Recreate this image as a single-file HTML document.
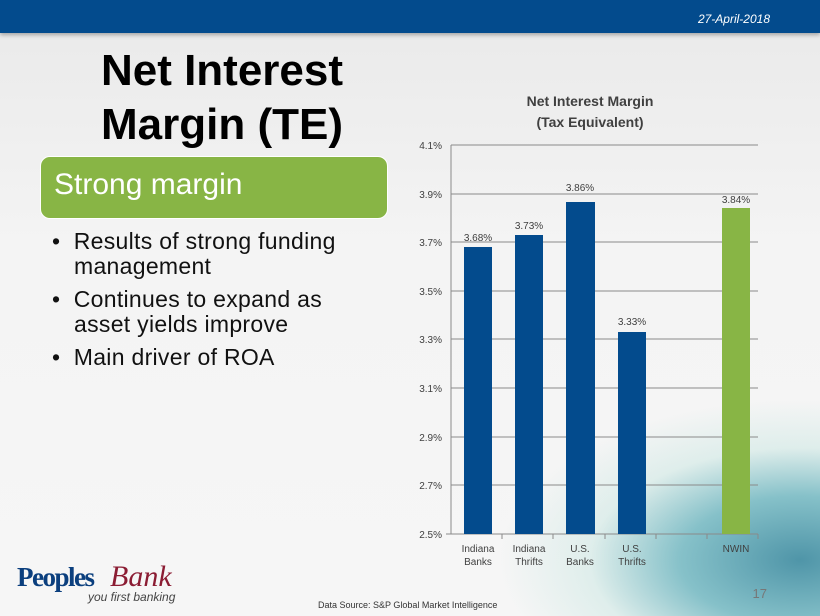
<!DOCTYPE html>
<html><head><meta charset="utf-8"><style>
*{margin:0;padding:0}
body{width:820px;height:616px;overflow:hidden;position:relative;font-family:"Liberation Sans",Arial,sans-serif;background:linear-gradient(180deg,#e9e9e9 0%,#f4f4f4 40%,#f6f6f6 100%)}
.abs{position:absolute}
</style></head><body>
<div class="abs" style="left:0;top:0;width:820px;height:616px;background:radial-gradient(ellipse 300px 160px at 800px 560px,#4f95a8 0%,#86c1c9 40%,rgba(200,230,225,0.5) 70%,rgba(246,246,246,0) 100%)"></div>
<div class="abs" style="left:0;top:0;width:820px;height:33px;background:#034b8d;box-shadow:0 2px 4px rgba(0,0,0,0.3)"></div>
<div class="abs" style="right:50px;top:12px;color:#fff;font-size:12px;font-style:italic">27-April-2018</div>
<div class="abs" style="left:62px;top:44px;width:320px;text-align:center;font-size:44px;font-weight:bold;line-height:54px;color:#000">Net Interest<br>Margin (TE)</div>
<div class="abs" style="left:40px;top:156px;width:348px;height:63px;background:#88b545;border-radius:10px;border:1px solid #fff;box-sizing:border-box"></div>
<div class="abs" style="left:54px;top:168px;font-size:30px;color:#fff">Strong margin</div>
<div class="abs" style="left:52px;top:229px;font-size:23px;letter-spacing:0.3px;line-height:25px;color:#111;width:305px">
<div style="padding-left:22px;text-indent:-22px">•&nbsp;&nbsp;Results of strong funding management</div>
<div style="padding-left:22px;text-indent:-22px;margin-top:8px">•&nbsp;&nbsp;Continues to expand as asset yields improve</div>
<div style="padding-left:22px;text-indent:-22px;margin-top:8px">•&nbsp;&nbsp;Main driver of ROA</div>
</div>
<svg class="abs" style="left:0;top:0" width="820" height="616" font-family="Liberation Sans,Arial,sans-serif">
<text x="590" y="106" text-anchor="middle" font-size="14" font-weight="bold" fill="#404040">Net Interest Margin</text>
<text x="590" y="127" text-anchor="middle" font-size="14" font-weight="bold" fill="#404040">(Tax Equivalent)</text>
<g stroke="#8a8a8a" stroke-width="1">
<line x1="451" x2="758" y1="145" y2="145"/><line x1="451" x2="758" y1="194" y2="194"/><line x1="451" x2="758" y1="242" y2="242"/><line x1="451" x2="758" y1="291" y2="291"/><line x1="451" x2="758" y1="339" y2="339"/><line x1="451" x2="758" y1="388" y2="388"/><line x1="451" x2="758" y1="437" y2="437"/><line x1="451" x2="758" y1="485" y2="485"/><line x1="446" x2="758" y1="534" y2="534"/>
<line x1="451" x2="451" y1="145" y2="534"/>
</g>
<g font-size="10" fill="#404040" text-anchor="end">
<text x="442" y="149">4.1%</text><text x="442" y="198">3.9%</text><text x="442" y="246">3.7%</text><text x="442" y="295">3.5%</text><text x="442" y="343">3.3%</text><text x="442" y="392">3.1%</text><text x="442" y="441">2.9%</text><text x="442" y="489">2.7%</text><text x="442" y="538">2.5%</text>
</g>
<g fill="#034b8d">
<rect x="464" y="247" width="28" height="287"/><rect x="515" y="235" width="28" height="299"/><rect x="566" y="202" width="29" height="332"/><rect x="618" y="332" width="28" height="202"/>
</g>
<rect x="722" y="208" width="28" height="326" fill="#88b545"/>
<g stroke="#8a8a8a"><line x1="502" x2="502" y1="534" y2="539"/><line x1="553" x2="553" y1="534" y2="539"/><line x1="605" x2="605" y1="534" y2="539"/><line x1="656" x2="656" y1="534" y2="539"/><line x1="707" x2="707" y1="534" y2="539"/><line x1="758" x2="758" y1="534" y2="539"/></g>
<g font-size="10" fill="#404040" text-anchor="middle">
<text x="478" y="241">3.68%</text><text x="529" y="229">3.73%</text><text x="580" y="191">3.86%</text><text x="632" y="325">3.33%</text><text x="736" y="203">3.84%</text>
<text x="478" y="552">Indiana</text><text x="478" y="565">Banks</text>
<text x="529" y="552">Indiana</text><text x="529" y="565">Thrifts</text>
<text x="580" y="552">U.S.</text><text x="580" y="565">Banks</text>
<text x="632" y="552">U.S.</text><text x="632" y="565">Thrifts</text>
<text x="736" y="552">NWIN</text>
</g>
<text x="17" y="586" font-family="Liberation Serif,serif" font-size="27" font-weight="bold" fill="#0b3f7e" letter-spacing="-1.5">Peoples</text>
<text x="110" y="586" font-family="Liberation Serif,serif" font-size="30" font-style="italic" fill="#8b1c33">Bank</text>
<text x="88" y="601" font-size="12" font-style="italic" fill="#444">you first banking</text>
<text x="318" y="608" font-size="9" fill="#333">Data Source: S&amp;P Global Market Intelligence</text>
<text x="767" y="598" font-size="13" fill="#777" text-anchor="end">17</text>
</svg>
</body></html>
